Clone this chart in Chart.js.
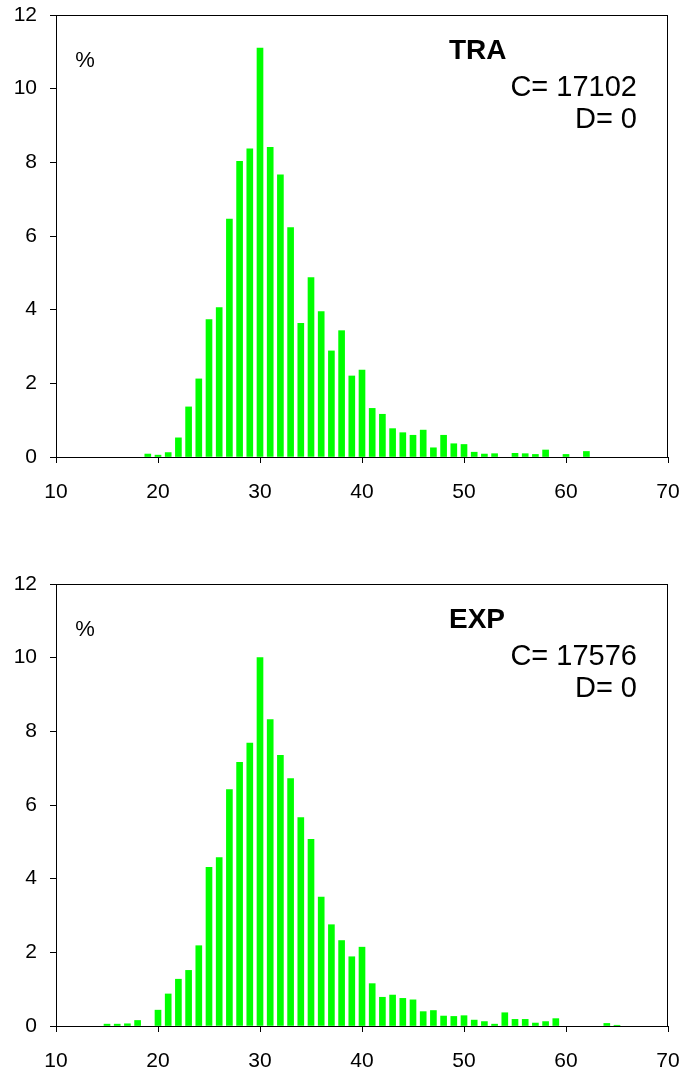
<!DOCTYPE html>
<html>
<head>
<meta charset="utf-8">
<script src="https://cdn.jsdelivr.net/npm/chart.js@4.4.1/dist/chart.umd.min.js"></script>
<style>
    html, body { margin: 0; padding: 0; background: #fff; }
    body { width: 686px; height: 1074px; position: relative; overflow: hidden; }
    .caja { position: absolute; left: 0; width: 686px; height: 505px; }
</style>
</head>
<body>
<div class="caja" style="top:0px"><canvas id="myChart01"></canvas></div>
<div class="caja" style="top:569px"><canvas id="myChart02"></canvas></div>
<script>
// datos (porcentaje por clase)
var clases = [15, 16, 17, 18, 19, 20, 21, 22, 23, 24, 25, 26, 27, 28, 29, 30, 31, 32, 33, 34,
    35, 36, 37, 38, 39, 40, 41, 42, 43, 44, 45, 46, 47, 48, 49, 50, 51, 52, 53, 54,
    55, 56, 57, 58, 59, 60, 61, 62, 63, 64, 65];

var valoresTRA = [0, 0, 0, 0, 0.08, 0.05, 0.12, 0.52, 1.36, 2.12, 3.73, 4.06, 6.46, 8.03, 8.37, 11.1, 8.41, 7.66, 6.23, 3.63,
    4.87, 3.95, 2.88, 3.43, 2.2, 2.36, 1.32, 1.16, 0.77, 0.66, 0.59, 0.73, 0.25, 0.59, 0.36, 0.34, 0.13, 0.08, 0.09, 0,
    0.1, 0.09, 0.07, 0.19, 0, 0.07, 0, 0.15, 0, 0, 0];

var valoresEXP = [0.05, 0.05, 0.06, 0.15, 0, 0.43, 0.87, 1.27, 1.51, 2.18, 4.31, 4.57, 6.42, 7.16, 7.68, 10.0, 8.32, 7.35, 6.72, 5.66,
    5.07, 3.5, 2.75, 2.32, 1.88, 2.14, 1.15, 0.78, 0.84, 0.75, 0.71, 0.39, 0.42, 0.27, 0.26, 0.28, 0.16, 0.12, 0.05, 0.36,
    0.18, 0.18, 0.08, 0.12, 0.2, 0, 0, 0, 0, 0.07, 0.02];

var ticksX = [10, 20, 30, 40, 50, 60, 70];
var ticksY = [0, 2, 4, 6, 8, 10, 12];

var textosTRA = ["TRA", "C= 17102", "D= 0"];
var textosEXP = ["EXP", "C= 17576", "D= 0"];

var fuente = "'Liberation Sans', Arial, sans-serif";

function show_grafico(idcanvas, valores, textos) {

    // las clases con 0 no se dibujan
    var puntos = clases.map(function (c, i) { return { x: c, y: valores[i] > 0 ? valores[i] : null }; });

    var marco = {
        id: 'marco',
        afterDraw: function (chart) {
            var ctx = chart.ctx;
            var a = chart.chartArea;
            ctx.save();
            ctx.strokeStyle = '#000';
            ctx.lineWidth = 1;
            ctx.strokeRect(Math.round(a.left) + 0.5, Math.round(a.top) + 0.5,
                Math.round(a.right - a.left) - 1, Math.round(a.bottom - a.top));
            ctx.fillStyle = '#000';
            ctx.textBaseline = 'alphabetic';
            ctx.font = "22px " + fuente;
            ctx.textAlign = 'center';
            ctx.fillText('%', a.left + 29, a.top + 52);
            ctx.font = "bold 28px " + fuente;
            ctx.textAlign = 'left';
            ctx.fillText(textos[0], a.left + 393, a.top + 44);
            ctx.font = "29px " + fuente;
            ctx.textAlign = 'right';
            ctx.fillText(textos[1], a.right - 31, a.top + 81);
            ctx.fillText(textos[2], a.right - 31, a.top + 113);
            ctx.restore();
        }
    };

    return new Chart(document.getElementById(idcanvas), {
        type: 'bar',
        data: {
            datasets: [{
                label: textos[0],
                backgroundColor: '#00ff00',
                borderWidth: 0,
                barThickness: 6,
                data: puntos
            }]
        },
        options: {
            responsive: true,
            maintainAspectRatio: false,
            animation: false,
            layout: { padding: { top: 15, right: 18, left: 0, bottom: 0 } },
            plugins: {
                legend: { display: false },
                tooltip: { enabled: false },
                title: { display: false }
            },
            scales: {
                x: {
                    type: 'linear',
                    min: 10,
                    max: 70,
                    offset: false,
                    afterBuildTicks: function (s) { s.ticks = ticksX.map(function (v) { return { value: v }; }); },
                    afterFit: function (s) { s.height = 48; s.paddingLeft = 0; s.paddingRight = 0; },
                    grid: { display: true, offset: false, drawOnChartArea: false, drawTicks: true, tickLength: 6, color: '#000' },
                    border: { display: true, color: '#000', width: 1 },
                    ticks: { color: '#000', padding: 17, maxRotation: 0, font: { family: fuente, size: 21 } }
                },
                y: {
                    min: 0,
                    max: 12,
                    afterBuildTicks: function (s) { s.ticks = ticksY.map(function (v) { return { value: v }; }); },
                    afterFit: function (s) { s.width = 56; s.paddingTop = 0; s.paddingBottom = 0; },
                    grid: { display: true, drawOnChartArea: false, drawTicks: true, tickLength: 6, color: '#000' },
                    border: { display: true, color: '#000', width: 1 },
                    ticks: { color: '#000', padding: 13, font: { family: fuente, size: 21 } }
                }
            }
        },
        plugins: [marco]
    });
}

show_grafico("myChart01", valoresTRA, textosTRA);
show_grafico("myChart02", valoresEXP, textosEXP);
</script>
</body>
</html>
